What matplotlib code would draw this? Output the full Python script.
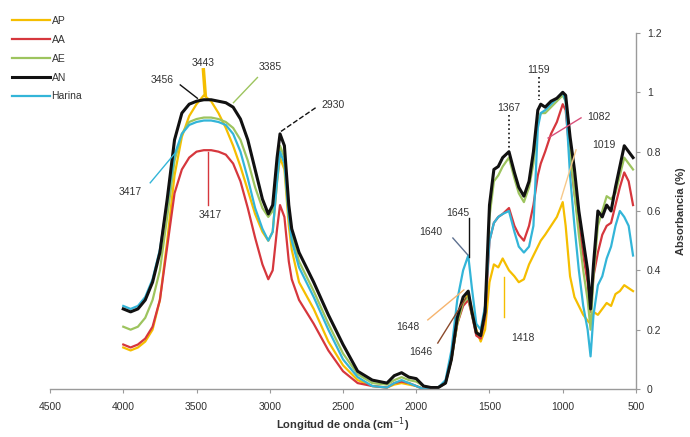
import matplotlib
matplotlib.use('Agg')
import matplotlib.pyplot as plt

plt.rcParams['font.family'] = ['Liberation Sans', 'DejaVu Sans']

# colores de las series
C_AP = '#F5BE00'
C_AA = '#D6373D'
C_AE = '#9DC45E'
C_AN = '#111111'
C_HAR = '#33B5D8'
TXT = '#333333'
AXIS = '#9A9A9A'

# numeros de onda (cm-1), comunes a todas las series
wn = [4000, 3950, 3900, 3850, 3800, 3750, 3700, 3650, 3600, 3550, 3500, 3450,
      3400, 3350, 3300, 3250, 3200, 3150, 3100, 3050, 3010, 2980, 2950, 2930,
      2900, 2870, 2850, 2800, 2700, 2600, 2500, 2400, 2300, 2200, 2150, 2100,
      2050, 2000, 1950, 1900, 1850, 1800, 1760, 1720, 1680, 1645, 1620, 1590,
      1560, 1530, 1500, 1470, 1440, 1410, 1367, 1330, 1300, 1265, 1230, 1200,
      1170, 1150, 1120, 1080, 1040, 1000, 980, 950, 920, 890, 860, 830, 810,
      790, 760, 730, 700, 670, 640, 610, 580, 550, 520]

ap = [0.14, 0.13, 0.14, 0.16, 0.20, 0.30, 0.50, 0.72, 0.85, 0.92, 0.96, 0.99,
      0.97, 0.93, 0.88, 0.82, 0.75, 0.67, 0.59, 0.53, 0.50, 0.53, 0.70, 0.78,
      0.74, 0.55, 0.47, 0.36, 0.27, 0.16, 0.08, 0.03, 0.01, 0.005, 0.015, 0.02,
      0.015, 0.01, 0.0, 0.0, 0.005, 0.02, 0.10, 0.22, 0.29, 0.32, 0.27, 0.20,
      0.16, 0.20, 0.36, 0.42, 0.41, 0.44, 0.40, 0.38, 0.36, 0.37, 0.42, 0.45,
      0.48, 0.50, 0.52, 0.55, 0.58, 0.63, 0.55, 0.38, 0.31, 0.28, 0.25, 0.23, 0.22,
      0.26, 0.25, 0.27, 0.29, 0.28, 0.32, 0.33, 0.35, 0.34, 0.33]

aa = [0.15, 0.14, 0.15, 0.17, 0.21, 0.30, 0.48, 0.66, 0.74, 0.78, 0.80, 0.805,
      0.805, 0.80, 0.79, 0.76, 0.70, 0.61, 0.51, 0.42, 0.37, 0.40, 0.54, 0.62,
      0.58, 0.43, 0.37, 0.30, 0.22, 0.13, 0.06, 0.02, 0.01, 0.005, 0.02, 0.025,
      0.02, 0.01, 0.0, 0.0, 0.005, 0.02, 0.10, 0.22, 0.28, 0.30, 0.25, 0.18,
      0.17, 0.24, 0.50, 0.56, 0.58, 0.59, 0.61, 0.55, 0.52, 0.50, 0.55, 0.62,
      0.72, 0.76, 0.80, 0.86, 0.90, 0.96, 0.94, 0.78, 0.66, 0.55, 0.45, 0.36, 0.26,
      0.38, 0.46, 0.52, 0.55, 0.56, 0.62, 0.68, 0.73, 0.70, 0.62]

ae = [0.21, 0.20, 0.21, 0.24, 0.30, 0.40, 0.58, 0.77, 0.86, 0.90, 0.91, 0.915,
      0.915, 0.91, 0.90, 0.88, 0.84, 0.77, 0.68, 0.61, 0.58, 0.60, 0.74, 0.82,
      0.78, 0.60, 0.52, 0.43, 0.33, 0.22, 0.12, 0.05, 0.02, 0.015, 0.03, 0.04,
      0.03, 0.025, 0.01, 0.005, 0.005, 0.02, 0.10, 0.22, 0.29, 0.31, 0.25, 0.19,
      0.18, 0.25, 0.58, 0.70, 0.72, 0.75, 0.78, 0.71, 0.66, 0.63, 0.68, 0.76,
      0.90, 0.93, 0.93, 0.95, 0.97, 0.99, 0.97, 0.80, 0.66, 0.52, 0.40, 0.30, 0.20,
      0.38, 0.55, 0.60, 0.65, 0.64, 0.66, 0.72, 0.78, 0.76, 0.74]

an = [0.27, 0.26, 0.27, 0.30, 0.36, 0.46, 0.64, 0.84, 0.93, 0.96, 0.97, 0.975,
      0.975, 0.97, 0.965, 0.95, 0.91, 0.84, 0.74, 0.64, 0.59, 0.62, 0.78, 0.86,
      0.82, 0.62, 0.54, 0.46, 0.36, 0.25, 0.15, 0.06, 0.03, 0.02, 0.045, 0.055,
      0.04, 0.035, 0.01, 0.005, 0.005, 0.02, 0.10, 0.24, 0.31, 0.33, 0.26, 0.19,
      0.18, 0.26, 0.62, 0.74, 0.75, 0.78, 0.80, 0.73, 0.68, 0.65, 0.70, 0.80,
      0.94, 0.96, 0.95, 0.97, 0.98, 1.0, 0.99, 0.85, 0.74, 0.60, 0.50, 0.40, 0.27,
      0.42, 0.60, 0.58, 0.62, 0.60, 0.68, 0.75, 0.82, 0.80, 0.78]

harina = [0.28, 0.27, 0.28, 0.31, 0.37, 0.47, 0.63, 0.79, 0.86, 0.89, 0.90, 0.905,
          0.905, 0.90, 0.89, 0.86, 0.80, 0.71, 0.61, 0.54, 0.50, 0.53, 0.70, 0.80,
          0.76, 0.58, 0.50, 0.41, 0.31, 0.20, 0.10, 0.04, 0.01, 0.005, 0.02, 0.03,
          0.02, 0.01, 0.0, 0.0, 0.005, 0.03, 0.13, 0.30, 0.40, 0.45, 0.34, 0.22,
          0.20, 0.28, 0.50, 0.56, 0.58, 0.59, 0.60, 0.53, 0.48, 0.46, 0.48, 0.55,
          0.88, 0.93, 0.94, 0.96, 0.98, 1.0, 0.97, 0.72, 0.55, 0.40, 0.28, 0.20, 0.11,
          0.25, 0.35, 0.38, 0.44, 0.48, 0.55, 0.60, 0.58, 0.55, 0.45]

# etiquetas de picos: texto, posicion del texto, segmento guia, color, estilo
peak_labels = [
    ('3456', (3734, 1.04), (3611, 1.025), (3494, 0.98), C_AN, '-', 1.0),
    ('3443', (3453, 1.10), (3453, 1.076), (3440, 0.99), C_AP, '-', 2.5),
    ('3385', (2995, 1.086), (3084, 1.05), (3248, 0.965), C_AE, '-', 1.0),
    ('2930', (2571, 0.958), (2687, 0.948), (2927, 0.867), C_AN, '--', 1.0),
    ('3417', (3953, 0.664), (3816, 0.695), (3645, 0.796), C_HAR, '-', 1.0),
    ('3417', (3406, 0.587), (3419, 0.62), (3419, 0.80), C_AA, '-', 1.0),
    ('1159', (1162, 1.076), (1159, 1.05), (1159, 0.975), C_AN, ':', 1.2),
    ('1367', (1367, 0.948), (1367, 0.924), (1367, 0.813), C_AN, ':', 1.2),
    ('1082', (752, 0.917), (875, 0.914), (1100, 0.846), '#D9507A', '-', 1.0),
    ('1019', (718, 0.823), (909, 0.806), (1012, 0.64), '#F7C98A', '-', 1.0),
    ('1645', (1716, 0.594), (1641, 0.577), (1641, 0.445), C_AN, '-', 1.0),
    ('1640', (1901, 0.53), (1750, 0.509), (1648, 0.452), '#5E7190', '-', 1.0),
    ('1648', (2058, 0.209), (1921, 0.233), (1675, 0.334), '#F6B46E', '-', 1.0),
    ('1646', (1969, 0.125), (1853, 0.155), (1661, 0.307), '#8B4A2B', '-', 1.0),
    ('1418', (1272, 0.172), (1401, 0.243), (1401, 0.378), C_AP, '-', 1.0),
]

fig = plt.figure(figsize=(6.9, 4.37), dpi=100)
fig.patch.set_facecolor('white')
ax = fig.add_axes([0.0725, 0.1098, 0.8492, 0.8147])

ax.plot(wn, ap, color=C_AP, lw=1.6, label='AP')
ax.plot(wn, aa, color=C_AA, lw=1.6, label='AA')
ax.plot(wn, ae, color=C_AE, lw=1.6, label='AE')
ax.plot(wn, harina, color=C_HAR, lw=1.6, label='Harina')
ax.plot(wn, an, color=C_AN, lw=2.2, label='AN')

for txt, pos, p0, p1, col, ls, lw in peak_labels:
    ax.plot([p0[0], p1[0]], [p0[1], p1[1]], color=col, ls=ls, lw=lw, zorder=5)
    ax.text(pos[0], pos[1], txt, ha='center', va='center', fontsize=7.5,
            color=TXT, zorder=6)

ax.set_xlim(4500, 500)
ax.set_ylim(0, 1.2)
ax.set_xticks(range(4500, 499, -500))
ax.set_yticks([0, 0.2, 0.4, 0.6, 0.8, 1.0, 1.2])
ax.set_yticklabels(['0', '0.2', '0.4', '0.6', '0.8', '1', '1.2'])
ax.yaxis.tick_right()
ax.yaxis.set_label_position('right')

for s in ('top', 'left'):
    ax.spines[s].set_visible(False)
for s in ('bottom', 'right'):
    ax.spines[s].set_color(AXIS)
    ax.spines[s].set_linewidth(1.0)
ax.tick_params(axis='both', colors=AXIS, labelcolor=TXT, labelsize=7.5,
               length=3, width=0.8)
ax.tick_params(axis='x', pad=6)
ax.tick_params(axis='y', pad=5)

ax.set_xlabel('Longitud de onda (cm$^{-1}$)', fontsize=8, fontweight='bold',
              color=TXT, labelpad=3)
ax.set_ylabel('Absorbancia (%)', fontsize=8, fontweight='bold', color=TXT,
              labelpad=10)

handles, labels = ax.get_legend_handles_labels()
order = ['AP', 'AA', 'AE', 'AN', 'Harina']
hs = [handles[labels.index(o)] for o in order]
fig.legend(hs, order, loc='upper left', bbox_to_anchor=(12 / 690, 1 - 16 / 437),
           frameon=False, fontsize=7.5, handlelength=3.6, handletextpad=0.2,
           labelspacing=0.85, borderpad=0, borderaxespad=0, labelcolor=TXT)

fig.savefig('out.png', dpi=100, facecolor='white')
